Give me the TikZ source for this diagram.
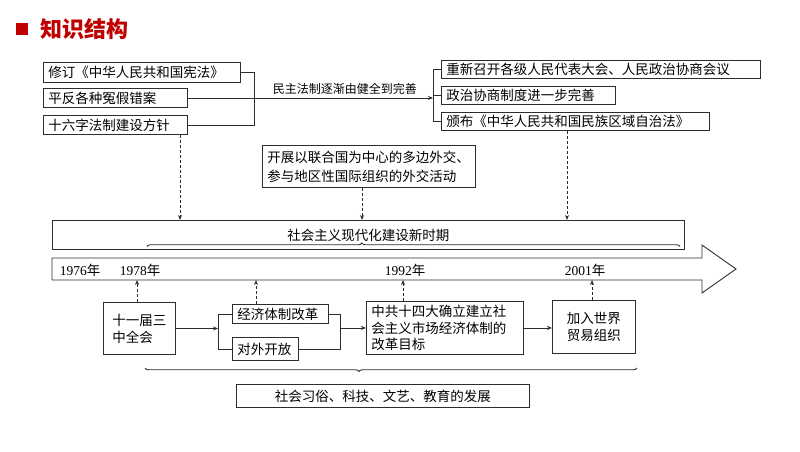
\documentclass[tikz,border=0pt]{standalone}
\usepackage{fontspec}
\setmainfont{Liberation Serif}
\newfontfamily\cjk{Noto Sans CJK SC}
\usetikzlibrary{arrows.meta,decorations.pathreplacing}
\definecolor{linec}{RGB}{45,45,45}
\definecolor{titlered}{RGB}{192,0,0}

\begin{document}
\begin{tikzpicture}[x=1pt,y=-1pt,>={Stealth[length=5pt,width=4pt]},
    box/.style 2 args={draw=linec,line width=.9pt,anchor=north west,inner xsep=5pt,inner ysep=0pt,
      text width=#1,minimum height=#2,align=left,font=\cjk\fontsize{13.5}{17}\selectfont},
    cbox/.style 2 args={draw=linec,line width=.9pt,anchor=north west,inner sep=0pt,
      minimum width=#1,minimum height=#2,align=center,font=\cjk\fontsize{13.5}{17}\selectfont},
    line/.style={draw=linec,line width=.9pt},
    dsh/.style={line,dash pattern=on 3pt off 2pt,->},
    brc/.style={line,decorate,decoration={brace,amplitude=3.5pt,aspect=#1}},
    year/.style={font=\fontsize{13.5}{16}\selectfont}]
    \useasboundingbox (0,0) rectangle (800,451);

    % title
    \fill[titlered] (16,23) rectangle (28,35);
    \node[anchor=west,text=titlered,font=\cjk\bfseries\fontsize{22}{24}\selectfont] (title) at (37,29) {知识结构};

    % upper boxes
    \node[box={187pt}{20pt}] (xf) at (43,62) {修订《中华人民共和国宪法》};
    \node[box={134pt}{19pt}] (pf) at (43,88) {平反各种冤假错案};
    \node[box={134pt}{19pt}] (sl) at (43,115) {十六字法制建设方针};
    \node[box={309pt}{18pt}] (zk) at (441,60) {重新召开各级人民代表大会、人民政治协商会议};
    \node[box={164pt}{18pt}] (zx) at (441,86) {政治协商制度进一步完善};
    \node[box={258pt}{18pt}] (bb) at (441,112) {颁布《中华人民共和国民族区域自治法》};
    \node[box={203pt}{42pt},font=\cjk\fontsize{13.5}{19}\selectfont] (wj) at (262,145)
      {开展以联合国为中心的多边外交、\\参与地区性国际组织的外交活动};
    \node[cbox={632pt}{29pt}] (sq) at (52,220) {社会主义现代化建设新时期};

    \draw[line] (xf.east) -| (sl.east -| 254,0) -- (sl.east);
    \draw[line] (zk.west) -- ++(-8,0) coordinate (rbt) |- (bb.west);
    \draw[line] (zx.west) -- ++(-8,0);
    \draw[line,->] (pf.east) -- (pf.east -| rbt)
      node[pos=.64,above,font=\cjk\fontsize{12}{14}\selectfont] {民主法制逐渐由健全到完善};

    \draw[dsh] (sl.south -| 180,0) -- (sq.north -| 180,0);
    \draw[dsh] (wj.south -| 362,0) -- (sq.north -| 362,0);
    \draw[dsh] (bb.south -| 567,0) -- (sq.north -| 567,0);
    \draw[brc=.403] (147,246.5) -- (680,246.5);

    % time line
    \draw[line] (52,258) -- (702,258) -- (702,245) -- (736,269) -- (702,293)
      -- (702,280) -- (52,280) -- cycle;
    \coordinate (tl) at (52,280);
    \node[year] (y76) at (80,270) {1976{\cjk 年}};
    \node[year] (y78) at (140,270) {1978{\cjk 年}};
    \node[year] (y92) at (405,270) {1992{\cjk 年}};
    \node[year] (y01) at (585,270) {2001{\cjk 年}};

    % lower boxes
    \node[box={54pt}{52pt},minimum width=72pt] (sz) at (103,302) {十一届三\\中全会};
    \node[box={86pt}{19pt}] (jj) at (232,304) {经济体制改革};
    \node[box={56pt}{23pt}] (dw) at (232,337) {对外开放};
    \node[box={147pt}{53pt},font=\cjk\fontsize{13.5}{16.5}\selectfont] (zg) at (366,301)
      {中共十四大确立建立社\\会主义市场经济体制的\\改革目标};
    \node[cbox={83pt}{53pt}] (jr) at (552,300) {加入世界\\贸易组织};
    \node[cbox={293pt}{23pt}] (fz) at (236,384) {社会习俗、科技、文艺、教育的发展};

    \draw[line,->] (sz.east) -- (sz.east -| 218,0);
    \draw[line] (jj.west) -| (dw.west -| 218,0) -- (dw.west);
    \draw[line] (jj.east) -| (dw.east -| 340,0) -- (dw.east);
    \draw[line,->] (zg.west -| 340,0) -- (zg.west);
    \draw[line,->] (zg.east) -- (zg.east -| jr.west);

    \draw[dsh] (sz.north -| 137,0) -- (tl -| 137,0);
    \draw[dsh] (jj.north -| 256,0) -- (tl -| 256,0);
    \draw[dsh] (zg.north -| 403,0) -- (tl -| 403,0);
    \draw[dsh] (jr.north -| 592,0) -- (tl -| 592,0);
    \draw[brc=.565] (637,368) -- (145,368);
\end{tikzpicture}
\end{document}
